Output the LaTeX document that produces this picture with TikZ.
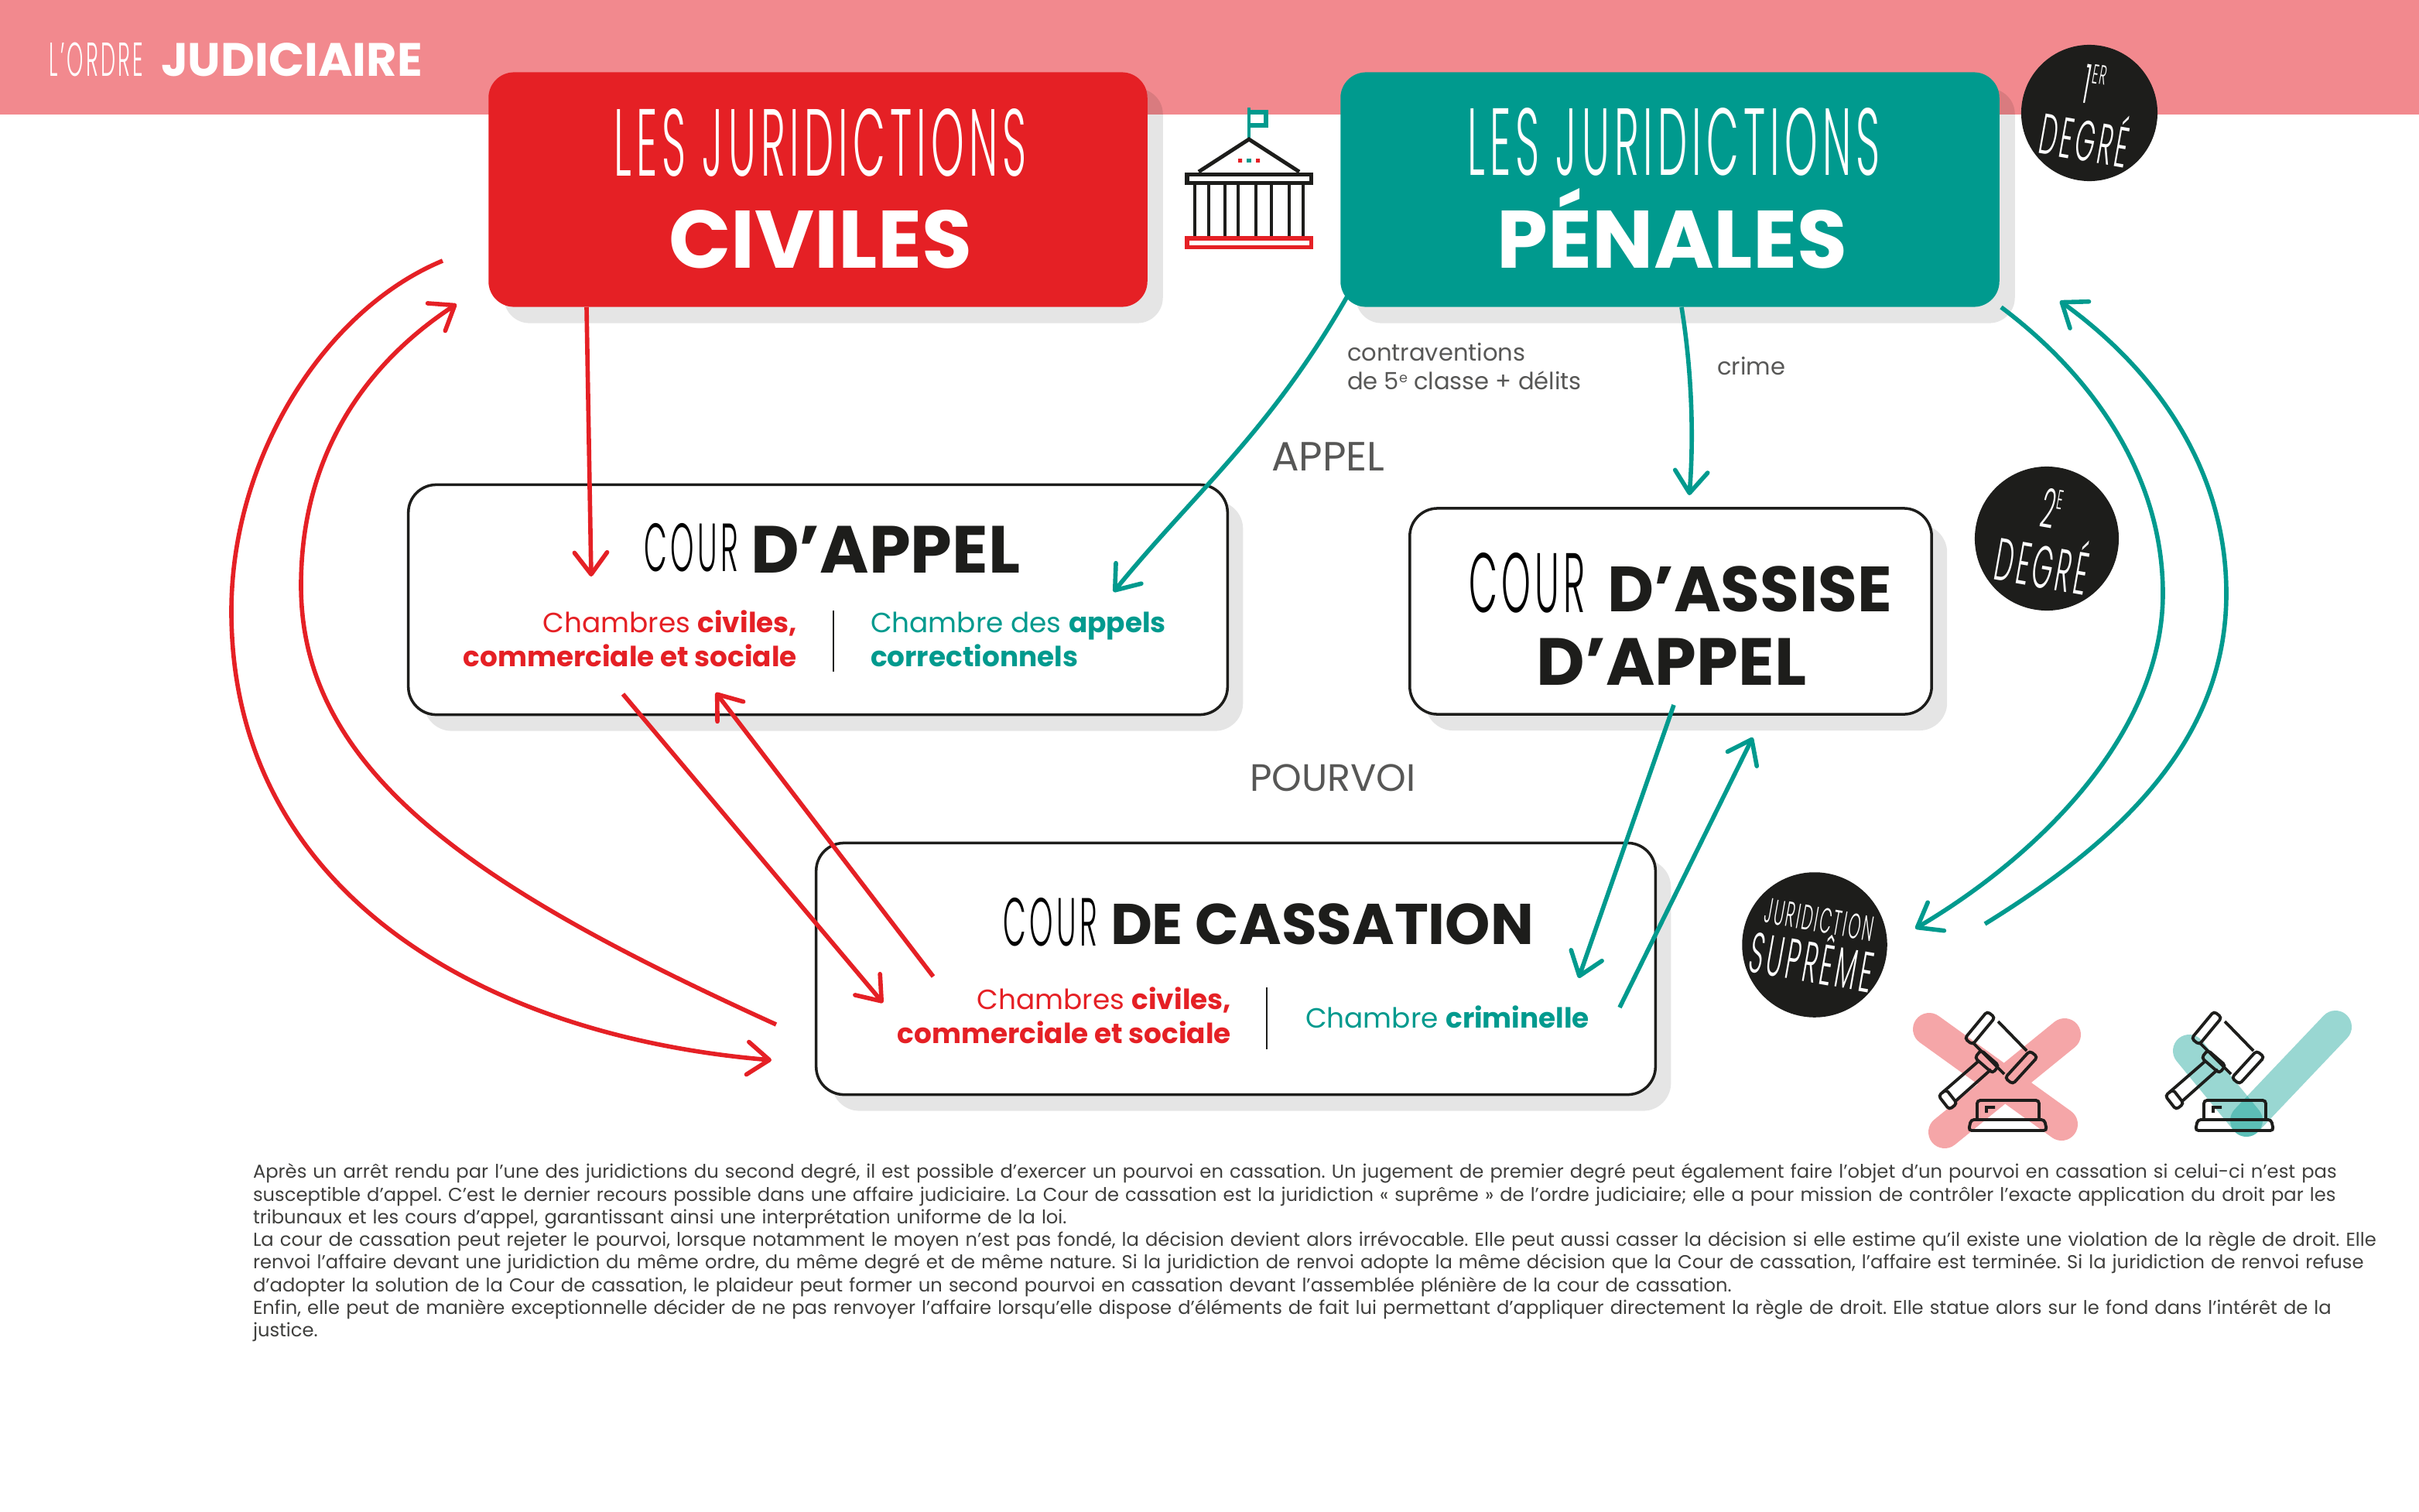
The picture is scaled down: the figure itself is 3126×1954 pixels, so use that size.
\documentclass[tikz,border=0pt]{standalone}
\usepackage{fontspec}
\setmainfont{Poppins}
\newfontfamily\thinfont[FakeStretch=0.44,LetterSpace=5]{Poppins Light}
\usepackage{tikz}
\usetikzlibrary{arrows.meta,bending,shadows}
\definecolor{civred}{HTML}{E52025}
\definecolor{penteal}{HTML}{009A8E}
\definecolor{bandpink}{HTML}{F2898E}
\definecolor{inkblack}{HTML}{1D1D1B}
\definecolor{greytxt}{HTML}{575756}
\tikzset{>={Straight Barb[length=8pt,width=12pt,round]}}
\tikzset{
 softshadow/.style={drop shadow={fill=black,opacity=.1,shadow xshift=.2cm,shadow yshift=-.21cm}},
 topbox/.style={rounded corners=.33cm,inner sep=0pt,softshadow,minimum width=8.51cm,minimum height=3.03cm},
 courbox/.style={draw=inkblack,line width=1pt,fill=white,rounded corners=.36cm,inner sep=0pt,softshadow},
 degre/.style={circle,fill=inkblack,text=white,inner sep=0pt,minimum size=#1,align=center},
 txt/.style={inner sep=0pt,outer sep=0pt},
 hand/.style={txt,font=\thinfont\fontsize{#1}{#1}\selectfont},
 strong/.style={txt,font=\bfseries\fontsize{#1}{#1}\selectfont},
 small/.style={txt,font=\fontsize{10.2}{12.5}\selectfont},
 note/.style={txt,text=greytxt,font=\fontsize{8.7}{10.5}\selectfont},
 rouge/.style={civred,line width=1.6pt,->},
 verte/.style={penteal,line width=1.6pt,->},
 gavelicon/.pic={
  \draw[inkblack,line width=1.1pt,rounded corners=.04cm]
   (78,15)--(49,50)--(39,42)--(68,7)--cycle
   (133,66)--(101,101)--(91,93)--(123,58)--cycle
   (52,67)--(75,87)--(83,77)--(60,57)--cycle
   (5,116)--(19,134)--(29,126)--(15,108)--cycle
   (55,147)--(55,122)--(135,122)--(135,147)
   (47,147)--(142,147)--(145,161)--(44,161)--cycle;
  \draw[inkblack,line width=1.1pt] (82,20)--(119,58) (50,48)--(90,88)
   (56,72)--(10,112) (73,82)--(27,123) (67,138)--(67,131)--(78,131);
 }
}

\begin{document}
\begin{tikzpicture}[x=.01cm,y=-.01cm]
\useasboundingbox (0,0) rectangle (3126,1954);

\fill[bandpink] (0,0) rectangle (3126,148);
\node[hand=17.5,text=white,anchor=base west] (ordre) at (64,98) {L’ORDRE};
\node[strong=17.2,text=white,anchor=base west] (judiciaire) at (208,98) {JUDICIAIRE};

% les deux blocs du haut
\node[topbox,fill=civred] (civiles) at (1057,245) {};
\node[topbox,fill=penteal] (penales) at (2158,245) {};
\node[hand=35,text=white,anchor=base] (jurciv) at (1060,227) {LES JURIDICTIONS};
\node[strong=30,text=white,anchor=base] (civtxt) at (1060,346) {CIVILES};
\node[hand=35,text=white,anchor=base] (jurpen) at (2163,226) {LES JURIDICTIONS};
\node[strong=30,text=white,anchor=base] (pentxt) at (2161,346) {PÉNALES};

% le palais
\draw[penteal,line width=1pt] (1614,178)--(1614,139);
\draw[penteal,line width=1.5pt] (1614,145)--(1636,145)--(1636,162)--(1614,162);
\draw[inkblack,line width=1.4pt,line join=miter] (1549,222)--(1614,180)--(1679,222);
\draw[inkblack,line width=1.45pt] (1534,225.5) rectangle (1694.5,236.5);
\foreach \colx in {1544,1562,1583,1600,1623,1643,1666,1684}
  \draw[inkblack,line width=1.1pt] (\colx,238)--(\colx,305);
\draw[civred,line width=1.6pt] (1534,308) rectangle (1694.5,319.5);
\fill[civred] (1600,205) rectangle (1605,210) (1623,205) rectangle (1628,210);
\fill[penteal] (1611,205) rectangle (1617,210);

% les cours
\node[courbox,minimum width=10.58cm,minimum height=2.97cm] (appel) at (1057,775) {};
\node[courbox,minimum width=6.74cm,minimum height=2.66cm] (assise) at (2159,790) {};
\node[courbox,minimum width=10.84cm,minimum height=3.25cm] (cassation) at (1597,1252) {};

\node[hand=25,anchor=base west] (courA) at (832,738) {COUR};
\node[strong=24.5,text=inkblack,anchor=base west] (courAb) at (970,740) {D’APPEL};
\node[small,text=civred,anchor=base east,align=right] (chA) at (1030,817) {Chambres \textbf{civiles,}};
\node[small,text=civred,anchor=base east] (chAb) at (1030,861) {\textbf{commerciale et sociale}};
\draw[inkblack,line width=.6pt] (1077,789)--(1077,868);
\node[small,text=penteal,anchor=base west] (chB) at (1125,817) {Chambre des \textbf{appels}};
\node[small,text=penteal,anchor=base west] (chBb) at (1125,861) {\textbf{correctionnels}};

\node[hand=31,anchor=base west] (courB) at (1898,791) {COUR};
\node[strong=23.5,text=inkblack,anchor=base west] (courBb) at (2077,790) {D’ASSISE};
\node[strong=24.5,text=inkblack,anchor=base] (courBc) at (2160,885) {D’APPEL};

\node[hand=25,anchor=base west] (courC) at (1296,1222) {COUR};
\node[strong=21.1,text=inkblack,anchor=base west] (courCb) at (1435,1220) {DE CASSATION};
\node[small,text=civred,anchor=base east] (chC) at (1591,1304) {Chambres \textbf{civiles,}};
\node[small,text=civred,anchor=base east] (chCb) at (1591,1348) {\textbf{commerciale et sociale}};
\draw[inkblack,line width=.6pt] (1637,1276)--(1637,1356);
\node[small,text=penteal,anchor=base west] (chD) at (1687,1328) {Chambre \textbf{criminelle}};

\node[note,anchor=base west] (contra) at (1741,466) {contraventions};
\node[note,anchor=base west] (classe) at (1741,503) {de 5\raisebox{.5ex}{\fontsize{5}{5}\selectfont e} classe + délits};
\node[note,anchor=base west] (crime) at (2219,484) {crime};
\node[txt,text=greytxt,font=\fontsize{15}{17}\selectfont,anchor=base west] (lblappel) at (1643,608) {APPEL};
\node[txt,text=greytxt,font=\fontsize{14}{16}\selectfont,anchor=base west] (lblpourvoi) at (1615,1022) {POURVOI};

% les pastilles
\node[degre=1.76cm,rotate=-10] (deg1) at (2700,146) {\thinfont\fontsize{20}{20}\selectfont 1\raisebox{.7ex}{\fontsize{10}{10}\selectfont ER}\\[1pt]\thinfont\fontsize{21}{21}\selectfont DEGRÉ};
\node[degre=1.86cm,rotate=-10] (deg2) at (2645,696) {\thinfont\fontsize{20}{20}\selectfont 2\raisebox{.7ex}{\fontsize{10}{10}\selectfont E}\\[1pt]\thinfont\fontsize{22}{22}\selectfont DEGRÉ};
\node[degre=1.86cm,rotate=-10] (deg3) at (2345,1221) {\thinfont\fontsize{13}{13}\selectfont JURIDICTION\\[-1pt]\thinfont\fontsize{21}{21}\selectfont SUPRÊME};

% les fleches
\coordinate (a1) at (758,397);
\coordinate (a2) at (764,745);
\coordinate (b1) at (572,337);
\coordinate (b2) at (997,1370);
\coordinate (c1) at (1003,1324);
\coordinate (c2) at (590,393);
\coordinate (d1) at (805,897);
\coordinate (d2) at (1141,1296);
\coordinate (e1) at (1206,1262);
\coordinate (e2) at (925,895);
\coordinate (f1) at (1741,383);
\coordinate (f2) at (1439,765);
\coordinate (g1) at (2173,397);
\coordinate (g2) at (2183,640);
\coordinate (h1) at (2586,397);
\coordinate (h2) at (2475,1200);
\coordinate (i1) at (2565,1194);
\coordinate (i2) at (2662,389);
\coordinate (j1) at (2163,911);
\coordinate (j2) at (2040,1264);
\coordinate (k1) at (2093,1302);
\coordinate (k2) at (2265,953);

\draw[rouge] (a1)--(a2);
\draw[rouge] (b1) .. controls (420,400) and (299,590) .. (299,790) .. controls (299,1150) and (620,1340) .. (b2);
\draw[rouge] (c1) .. controls (620,1150) and (389,1000) .. (389,757) .. controls (389,590) and (470,470) .. (c2);
\draw[rouge] (d1)--(d2);
\draw[rouge] (e1)--(e2);
\draw[verte] (f1) .. controls (1640,560) and (1540,640) .. (f2);
\draw[verte] (g1) .. controls (2185,470) and (2190,560) .. (g2);
\draw[verte] (h1) .. controls (2710,490) and (2795,620) .. (2795,767) .. controls (2795,950) and (2630,1110) .. (h2);
\draw[verte] (i1) .. controls (2750,1080) and (2877,950) .. (2877,767) .. controls (2877,610) and (2790,480) .. (i2);
\draw[verte] (j1)--(j2);
\draw[verte] (k1)--(k2);

% rejet / cassation
\draw[civred,opacity=.4,line width=.42cm,line cap=round] (2493,1330)--(2664,1453) (2668,1337)--(2513,1463);
\draw[penteal,opacity=.4,line width=.42cm,line cap=round] (2829,1358)--(2903,1448);
\draw[penteal,opacity=.4,line width=.42cm,line cap=round] (3018,1327)--(2903,1448);
\pic at (2500,1300) {gavelicon};
\pic at (2793,1300) {gavelicon};

\node[txt,text=inkblack!85,anchor=north west,align=left,text width=28.5cm,font=\fontsize{6.89}{8.32}\selectfont\frenchspacing] (texte) at (327,1504) {Après un arrêt rendu par l’une des juridictions du second degré, il est possible d'exercer un pourvoi en cassation. Un jugement de premier degré peut également faire l’objet d’un pourvoi en cassation si celui-ci n’est pas\\
susceptible d’appel. C’est le dernier recours possible dans une affaire judiciaire. La Cour de cassation est la juridiction « suprême » de l’ordre judiciaire; elle a pour mission de contrôler l’exacte application du droit par les\\
tribunaux et les cours d’appel, garantissant ainsi une interprétation uniforme de la loi.\\
La cour de cassation peut rejeter le pourvoi, lorsque notamment le moyen n’est pas fondé, la décision devient alors irrévocable. Elle peut aussi casser la décision si elle estime qu’il existe une violation de la règle de droit. Elle\\
renvoi l’affaire devant une juridiction du même ordre, du même degré et de même nature. Si la juridiction de renvoi adopte la même décision que la Cour de cassation, l’affaire est terminée. Si la juridiction de renvoi refuse\\
d’adopter la solution de la Cour de cassation, le plaideur peut former un second pourvoi en cassation devant l’assemblée plénière de la cour de cassation.\\
Enfin, elle peut de manière exceptionnelle décider de ne pas renvoyer l’affaire lorsqu’elle dispose d’éléments de fait lui permettant d’appliquer directement la règle de droit. Elle statue alors sur le fond dans l’intérêt de la\\
justice.};

\end{tikzpicture}
\end{document}
